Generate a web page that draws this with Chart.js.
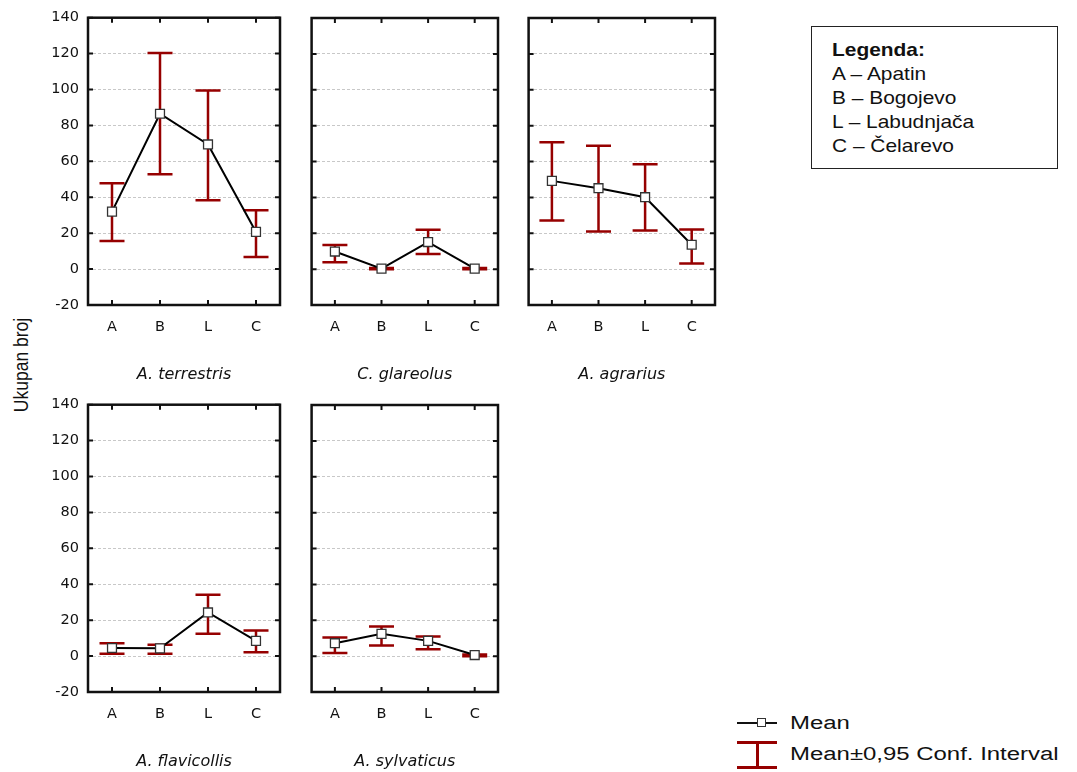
<!DOCTYPE html>
<html>
<head>
<meta charset="utf-8">
<script src="https://cdn.jsdelivr.net/npm/chart.js@4.4.0/dist/chart.umd.min.js"></script>
<style>
body{margin:0;background:#fff;font-family:"Liberation Sans",Arial,sans-serif;color:#111;}
#wrap{position:relative;width:1077px;height:772px;overflow:hidden;}
canvas{position:absolute;}
#ytitle{position:absolute;left:22px;top:365px;transform:translate(-50%,-50%) rotate(-90deg) scaleY(1.15);font-size:17.5px;white-space:nowrap;}
#legbox{position:absolute;left:811px;top:26px;width:245px;height:141px;border:1.5px solid #222;}
#legbox .in{position:absolute;left:20px;top:11px;font-size:18.5px;line-height:24px;transform:scaleX(1.13);transform-origin:0 0;white-space:nowrap;}
.lg{position:absolute;left:790px;font-size:18px;white-space:nowrap;transform:translateY(-50%) scaleX(1.33);transform-origin:0 50%;}
.sym{position:absolute;}
</style>
</head>
<body>
<div id="wrap">
  <div id="ytitle">Ukupan broj</div>
  <div id="legbox"><div class="in"><b>Legenda:</b><br>A – Apatin<br>B – Bogojevo<br>L – Labudnjača<br>C – Čelarevo</div></div>
  <div class="sym" style="left:737px;top:722px;width:40px;height:2px;background:#111"></div>
  <div class="sym" style="left:757px;top:718px;width:7px;height:7px;border:1.5px solid #333;background:#fff"></div>
  <div class="lg" style="top:723px">Mean</div>
  <div class="sym" style="left:737px;top:741px;width:40px;height:2.5px;background:#960000"></div>
  <div class="sym" style="left:737px;top:766px;width:40px;height:2.5px;background:#960000"></div>
  <div class="sym" style="left:756px;top:742px;width:2.5px;height:25px;background:#960000"></div>
  <div class="lg" style="top:754px">Mean±0,95 Conf. Interval</div>
</div>
<script>
const sites = ['A', 'B', 'L', 'C']
const species = ['A. terrestris', 'C. glareolus', 'A. agrarius', 'A. flavicollis', 'A. sylvaticus']
const yTicks = [-20, 0, 20, 40, 60, 80, 100, 120, 140]

const terrestrisMean = [32, 86.5, 69.4, 20.7]
const terrestrisLow  = [15.6, 52.8, 38.3, 6.8]
const terrestrisHigh = [47.8, 120.4, 99.4, 32.8]

const glareolusMean = [9.8, 0.3, 15.1, 0.3]
const glareolusLow  = [3.9, 0, 8.5, 0]
const glareolusHigh = [13.5, 0.6, 21.9, 0.6]

const agrariusMean = [49.2, 45.1, 40.1, 13.6]
const agrariusLow  = [27.1, 21, 21.6, 3.1]
const agrariusHigh = [70.7, 68.8, 58.4, 22.1]

const flavicollisMean = [4.5, 4.3, 24.3, 8.5]
const flavicollisLow  = [1.3, 1.3, 12.4, 2.2]
const flavicollisHigh = [7.2, 6.3, 34.2, 14.3]

const sylvaticusMean = [7.2, 12.4, 8.5, 0.6]
const sylvaticusLow  = [1.7, 5.9, 3.9, 0]
const sylvaticusHigh = [10.4, 16.5, 11, 0.9]

const means = [terrestrisMean, glareolusMean, agrariusMean, flavicollisMean, sylvaticusMean]
const lows = [terrestrisLow, glareolusLow, agrariusLow, flavicollisLow, sylvaticusLow]
const highs = [terrestrisHigh, glareolusHigh, agrariusHigh, flavicollisHigh, sylvaticusHigh]

// frame positions of the panels (left, top) and whether they show y labels
const frames = [[88, 18, true], [306, 18, false], [523, 18, false], [88, 405, true], [306, 405, false]]
const frameW = 192, frameH = 287, padTop = 10, padRight = 10, xAxisH = 80

const errColor = '#960000'
const fontFam = '"DejaVu Sans", "Liberation Sans", Arial'

const panelPlugin = {
  id: 'panel',
  beforeDatasetsDraw(chart) {
    const {ctx, scales: {x, y}} = chart
    const ds = chart.data.datasets[0]
    ctx.save()
    ctx.strokeStyle = errColor
    ctx.lineWidth = 2.5
    ds.low.forEach((lo, i) => {
      const px = x.getPixelForValue(i)
      const yl = y.getPixelForValue(lo), yh = y.getPixelForValue(ds.high[i])
      ctx.beginPath()
      ctx.moveTo(px, yl); ctx.lineTo(px, yh)
      ctx.moveTo(px - 12.5, yl); ctx.lineTo(px + 12.5, yl)
      ctx.moveTo(px - 12.5, yh); ctx.lineTo(px + 12.5, yh)
      ctx.stroke()
    })
    ctx.restore()
  },
  afterDraw(chart) {
    const {ctx, chartArea: a, scales: {x, y}} = chart
    ctx.save()
    ctx.strokeStyle = '#111'
    ctx.lineWidth = 2.5
    ctx.strokeRect(a.left, a.top, a.right - a.left, a.bottom - a.top)
    ctx.lineWidth = 2
    ctx.beginPath()
    sites.forEach((s, i) => {
      const px = x.getPixelForValue(i)
      ctx.moveTo(px, a.top); ctx.lineTo(px, a.top + 5)
      ctx.moveTo(px, a.bottom); ctx.lineTo(px, a.bottom - 5)
    })
    yTicks.forEach(v => {
      const py = y.getPixelForValue(v)
      ctx.moveTo(a.left, py); ctx.lineTo(a.left + 5, py)
      ctx.moveTo(a.right, py); ctx.lineTo(a.right - 5, py)
    })
    ctx.stroke()
    ctx.restore()
  }
}

function makeConfig(k, showY, yW) {
  return {
    type: 'line',
    data: {
      labels: sites,
      datasets: [{
        data: means[k],
        low: lows[k],
        high: highs[k],
        borderColor: '#000',
        borderWidth: 2,
        tension: 0,
        pointStyle: 'rect',
        pointRadius: 6.3,
        pointBackgroundColor: '#fff',
        pointBorderColor: '#333',
        pointBorderWidth: 1.3
      }]
    },
    options: {
      responsive: false,
      maintainAspectRatio: false,
      animation: false,
      events: [],
      layout: {padding: {top: padTop, right: padRight, left: 0, bottom: 0}},
      plugins: {legend: {display: false}, tooltip: {enabled: false}},
      scales: {
        x: {
          offset: true,
          grid: {display: false, drawTicks: false},
          border: {display: false},
          ticks: {padding: 14, color: '#111', font: {family: fontFam, size: 14.5}},
          title: {display: true, text: species[k], color: '#111', padding: {top: 0, bottom: 1},
                  font: {family: fontFam, size: 16, style: 'oblique'}},
          afterFit(s) { s.height = xAxisH }
        },
        y: {
          min: -20, max: 140,
          grid: {color: '#c8c8c8', lineWidth: 1, drawTicks: false},
          border: {display: false, dash: [3, 2]},
          ticks: {display: showY, stepSize: 20, padding: 9, color: '#111',
                  font: {family: fontFam, size: 14.5}},
          afterFit(s) { s.width = yW }
        }
      }
    },
    plugins: [panelPlugin]
  }
}

const wrap = document.getElementById('wrap')
frames.forEach(([fl, ft, showY], k) => {
  const yW = showY ? 88 : 2
  const cv = document.createElement('canvas')
  cv.width = yW + frameW + padRight
  cv.height = padTop + frameH + xAxisH
  cv.style.left = (fl - yW) + 'px'
  cv.style.top = (ft - padTop) + 'px'
  wrap.appendChild(cv)
  let chart = new Chart(cv, makeConfig(k, showY, yW))
  // tick labels can push the plot area down; grow the canvas so the frame keeps its size
  const extra = Math.round(chart.chartArea.top - padTop)
  if (extra !== 0) {
    chart.destroy()
    cv.width = yW + frameW + padRight
    cv.height = padTop + extra + frameH + xAxisH
    cv.style.top = (ft - padTop - extra) + 'px'
    chart = new Chart(cv, makeConfig(k, showY, yW))
  }
})
</script>
</body>
</html>
